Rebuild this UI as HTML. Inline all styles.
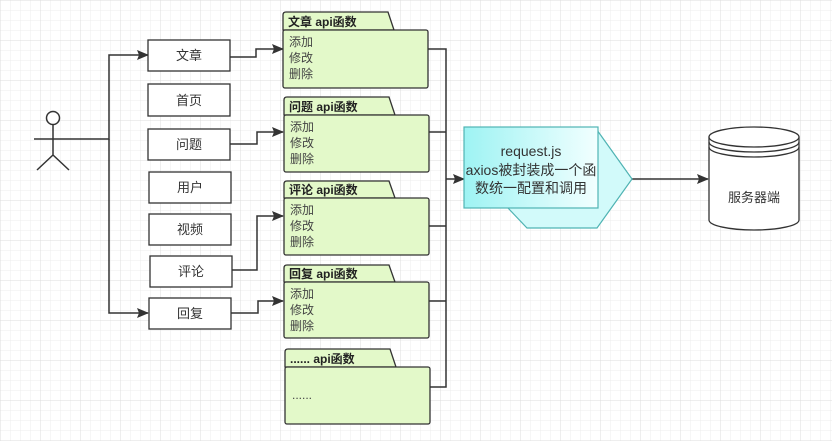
<!DOCTYPE html>
<html><head><meta charset="utf-8"><style>
html,body{margin:0;padding:0;background:#fff}
svg{display:block}
text{font-family:"Liberation Sans","Noto Sans CJK SC",sans-serif}
</style></head><body>
<svg width="832" height="441" viewBox="0 0 832 441" xmlns="http://www.w3.org/2000/svg">
<defs>
<pattern id="g" width="10" height="10" patternUnits="userSpaceOnUse"><path d="M10 0H0V10" fill="none" stroke="#ececec" stroke-width="1"/></pattern>
<pattern id="G" width="40" height="40" patternUnits="userSpaceOnUse"><rect width="40" height="40" fill="url(#g)"/><path d="M40 0H0V40" fill="none" stroke="#dcdcdc" stroke-width="1"/></pattern>
<marker id="a" markerWidth="12" markerHeight="10" refX="11" refY="5" orient="auto" markerUnits="userSpaceOnUse"><path d="M0 0L12 5L0 10L2 5Z" fill="#333"/></marker>
<linearGradient id="cy" x1="0" x2="1"><stop offset="0" stop-color="#9ef3f3"/><stop offset="1" stop-color="#f2ffff"/></linearGradient>
</defs>
<rect width="832" height="441" fill="url(#G)"/>
<g stroke="#333" stroke-width="1.5" fill="none">
<circle cx="53" cy="118" r="6.5" fill="#fff"/>
<path d="M53 124V155M34 139H72M53 155L37 170M53 155L69 170"/>
<path d="M72 139H109V55H148" marker-end="url(#a)"/>
<path d="M109 139V313H148" marker-end="url(#a)"/>
<path d="M230 57H256V49H283" marker-end="url(#a)"/>
<path d="M230 144H257V132H283" marker-end="url(#a)"/>
<path d="M230 270H257V216H283" marker-end="url(#a)"/>
<path d="M230 313H258V301H283" marker-end="url(#a)"/>
<path d="M428 49H446V387H430M428 132H446M428 226H446M428 301H446"/>
<path d="M446 179H464" marker-end="url(#a)"/>
<path d="M632 179H708" marker-end="url(#a)"/>
</g>
<g stroke="#333" stroke-width="1.3" fill="#fff">
<rect x="148" y="40" width="82" height="31"/>
<rect x="148" y="84" width="82" height="32"/>
<rect x="148" y="129" width="82" height="31"/>
<rect x="149" y="172" width="82" height="31"/>
<rect x="149" y="214" width="82" height="31"/>
<rect x="150" y="256" width="82" height="31"/>
<rect x="149" y="298" width="82" height="31"/>
</g>
<g font-size="13" fill="#333" text-anchor="middle">
<text x="189" y="60">文章</text><text x="189" y="105">首页</text><text x="189" y="149">问题</text>
<text x="190" y="192">用户</text><text x="190" y="234">视频</text><text x="191" y="276">评论</text><text x="190" y="318">回复</text>
</g>
<g stroke="#333" stroke-width="1.3" fill="#e3f9c9">
<path d="M283 30V15Q283 12 286 12H388L394 30Z"/><rect x="283" y="30" width="145" height="58" rx="2"/>
<path d="M284 115V100Q284 97 287 97H389L395 115Z"/><rect x="284" y="115" width="145" height="57" rx="2"/>
<path d="M284 198V184Q284 181 287 181H389L395 198Z"/><rect x="284" y="198" width="145" height="57" rx="2"/>
<path d="M284 282V268Q284 265 287 265H389L395 282Z"/><rect x="284" y="282" width="145" height="56" rx="2"/>
<path d="M285 367V352Q285 349 288 349H390L396 367Z"/><rect x="285" y="367" width="145" height="57" rx="2"/>
</g>
<g font-size="12" fill="#222" font-weight="bold">
<text x="288" y="26">文章 api函数</text><text x="289" y="111">问题 api函数</text>
<text x="289" y="194">评论 api函数</text><text x="289" y="278">回复 api函数</text><text x="290" y="363">...... api函数</text>
</g>
<g font-size="12" fill="#444">
<text x="289" y="46">添加</text><text x="289" y="62">修改</text><text x="289" y="78">删除</text>
<text x="290" y="131">添加</text><text x="290" y="147">修改</text><text x="290" y="163">删除</text>
<text x="290" y="214">添加</text><text x="290" y="230">修改</text><text x="290" y="246">删除</text>
<text x="290" y="298">添加</text><text x="290" y="314">修改</text><text x="290" y="330">删除</text>
<text x="292" y="399">......</text>
</g>
<path d="M597 130L632 179L597 228H527L508 208V130Z" fill="#d2fafa" stroke="#4fb3b3" stroke-width="1.2"/>
<rect x="464" y="127" width="134" height="81" fill="url(#cy)" stroke="#4fb3b3" stroke-width="1.2"/>
<g font-size="14" fill="#333" text-anchor="middle">
<text x="531" y="156">request.js</text><text x="531" y="175">axios被封装成一个函</text><text x="531" y="193">数统一配置和调用</text>
</g>
<g stroke="#333" stroke-width="1.3" fill="#fff">
<path d="M709 137V220A45 10 0 0 0 799 220V137"/>
<ellipse cx="754" cy="137" rx="45" ry="10"/>
<path d="M709 142A45 10 0 0 0 799 142M709 147A45 10 0 0 0 799 147" fill="none"/>
</g>
<text x="754" y="202" font-size="13" fill="#333" text-anchor="middle">服务器端</text>
</svg>
</body></html>
